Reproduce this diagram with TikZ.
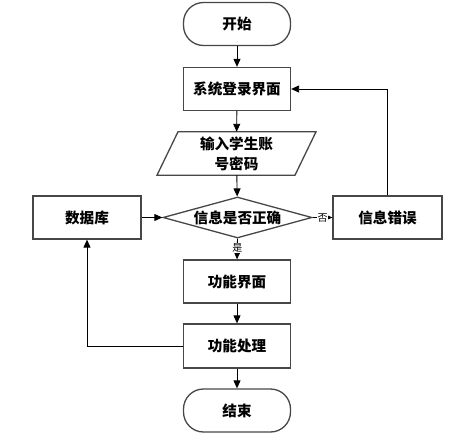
\documentclass[tikz,border=0pt]{standalone}
\usepackage{fontspec}
\newfontfamily\cjk{Noto Sans CJK SC}
\usetikzlibrary{arrows.meta,shapes.geometric,calc}
\begin{document}
\begin{tikzpicture}[x=1pt,y=-1pt,
  txt/.style={font=\cjk\bfseries\fontsize{14.6}{20}\selectfont},
  boxline/.style={draw=black!72,line width=1.3pt},
  procbox/.style={txt,boxline,rectangle,minimum width=107pt,minimum height=43pt,inner sep=0pt,fill=white},
  termbox/.style={procbox,rounded corners=20pt},
  decbox/.style={txt,boxline,diamond,aspect=3.6,minimum width=149pt,minimum height=41pt,inner sep=0pt,fill=white},
  conn/.style={draw=black,line width=0.9pt,-{Triangle[length=8pt,width=7pt]}},
  lab/.style={font=\cjk\fontsize{10}{12}\selectfont,fill=white,inner sep=0.5pt}
]
\fill[white] (0,0) rectangle (472,442);
\useasboundingbox (0,0) rectangle (472,442);

\node[termbox] (start) at (237,24) {开始};
\node[procbox] (login) at (237,89) {系统登录界面};
\node[txt,rectangle,minimum width=100pt,minimum height=43pt,inner sep=0pt,align=center] (input) at (236.5,153.5) {输入学生账\\号密码};
\draw[boxline] ($(input.north)+(-58.5,0)$) -- ($(input.north)+(79.5,0)$) -- ($(input.south)+(58.5,0)$) -- ($(input.south)+(-79.5,0)$) -- cycle;
\node[decbox] (dec) at (237.5,217.5) {信息是否正确};
\node[procbox,minimum width=108pt] (db) at (87,217.5) {数据库};
\node[procbox,minimum width=109pt] (err) at (387.5,217.5) {信息错误};
\node[procbox] (func) at (237,281.5) {功能界面};
\node[procbox,minimum height=44pt] (proc) at (237,346) {功能处理};
\node[termbox] (end) at (237,410.5) {结束};

\coordinate (errup) at (387,89);
\coordinate (dbdown) at (87,346);

\draw[conn] (start) -- (login);
\draw[conn] (login) -- (input);
\draw[conn] (input) -- (dec);
\draw[conn] (dec.east) -- node[lab,pos=0.5] {否} (err.west);
\draw[conn] (dec.south) -- node[lab,pos=0.45] {是} (func.north);
\draw[conn] (err.north -| errup) -- (errup) -- (login.east);
\draw[conn] (db.east) -- (dec.west);
\draw[conn] (proc.west) -- (dbdown) -- (db.south);
\draw[conn] (func) -- (proc);
\draw[conn] (proc) -- (end);
\end{tikzpicture}
\end{document}
